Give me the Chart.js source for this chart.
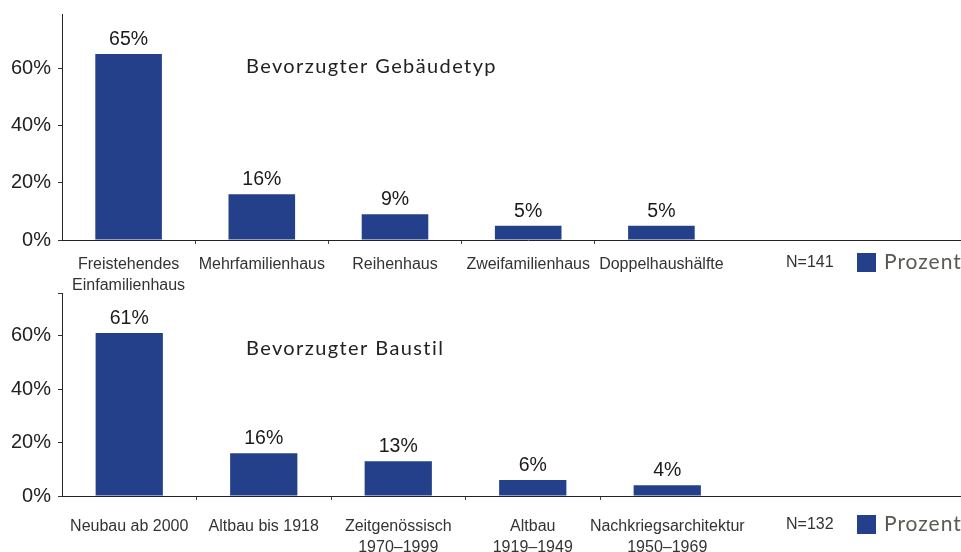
<!DOCTYPE html>
<html lang="de">
<head>
<meta charset="utf-8">
<title>Bevorzugter Gebäudetyp und Baustil</title>
<script src="https://cdn.jsdelivr.net/npm/chart.js@4/dist/chart.umd.min.js"></script>
<style>
  html, body { margin: 0; padding: 0; background: #fff; overflow: hidden; }
  .panel { position: relative; width: 1010px; }
  canvas { display: block; }
</style>
</head>
<body>
<div class="panel"><canvas id="typChart" width="1010" height="290"></canvas></div>
<div class="panel"><canvas id="stilChart" width="1010" height="262"></canvas></div>
<script>
// Gebäudetyp
const typKategorien = [
  ["Freistehendes", "Einfamilienhaus"],
  "Mehrfamilienhaus",
  "Reihenhaus",
  "Zweifamilienhaus",
  "Doppelhaushälfte",
];
const typProzent = [65, 16, 9, 5, 5];

// Baustil
const stilKategorien = [
  "Neubau ab 2000",
  "Altbau bis 1918",
  ["Zeitgenössisch", "1970–1999"],
  ["Altbau", "1919–1949"],
  ["Nachkriegsarchitektur", "1950–1969"],
];
const stilProzent = [61, 16, 13, 6, 4];

const yTickWerte = [0, 20, 40, 60];

const BAR_COLOR = "#25408a";
const SANS = "'Liberation Sans', Arial, sans-serif";
const DECO = "Lato, 'Noto Sans', sans-serif";

// value labels, title, N and legend drawn on top of the chart
const beschriftung = {
  id: "beschriftung",
  afterDatasetsDraw(chart, args, opts) {
    const ctx = chart.ctx;
    const meta = chart.getDatasetMeta(0);
    ctx.save();
    ctx.fillStyle = "#1a1a1a";
    ctx.font = "19.5px " + SANS;
    ctx.textAlign = "center";
    ctx.textBaseline = "alphabetic";
    meta.data.forEach((bar, i) => {
      const v = chart.data.datasets[0].data[i];
      ctx.fillText(v + "%", bar.x, bar.y - 9);
    });

    ctx.textAlign = "left";
    ctx.fillStyle = "#222";
    ctx.font = "20px " + DECO;
    ctx.letterSpacing = "1.4px";
    ctx.fillText(opts.titel, 246, opts.titelY);

    ctx.letterSpacing = "0px";
    ctx.fillStyle = "#333";
    ctx.font = "16px " + SANS;
    ctx.textBaseline = "middle";
    ctx.fillText(opts.n, 786, opts.legendeY);

    ctx.fillStyle = BAR_COLOR;
    ctx.fillRect(857, opts.legendeY - 10, 19, 19);
    ctx.fillStyle = "#5a5a52";
    ctx.font = "21px " + DECO;
    ctx.letterSpacing = "1px";
    ctx.fillText("Prozent", 884, opts.legendeY - 1);
    ctx.restore();
  },
};

function baueChart(id, kategorien, werte, cfg) {
  // two empty slots keep the axis running on to the right edge
  const labels = kategorien.concat(["", ""]);
  return new Chart(document.getElementById(id), {
    type: "bar",
    data: {
      labels: labels,
      datasets: [{
        label: "Prozent",
        data: werte,
        backgroundColor: BAR_COLOR,
        borderWidth: 0,
        categoryPercentage: 0.5,
        barPercentage: 1.0,
      }],
    },
    plugins: [beschriftung],
    options: {
      responsive: false,
      animation: false,
      devicePixelRatio: 1,
      layout: { padding: { top: cfg.top, right: cfg.right, left: 0, bottom: 0 } },
      plugins: {
        legend: { display: false },
        tooltip: { enabled: false },
        beschriftung: { titel: cfg.titel, titelY: cfg.titelY, n: cfg.n, legendeY: cfg.legendeY },
      },
      scales: {
        x: {
          afterFit: (s) => {
            s.height = cfg.xHoehe;
            s.paddingLeft = 0;
            s.paddingRight = 0;
          },
          border: { display: true, color: "#222", width: 1 },
          grid: {
            offset: true,
            drawOnChartArea: false,
            tickLength: 4,
            color: (c) => (c.index >= 1 && c.index <= 4 ? "#444" : "rgba(0,0,0,0)"),
          },
          ticks: {
            color: "#333",
            font: { family: SANS, size: 16, lineHeight: 1.3 },
            padding: cfg.xPadding,
            maxRotation: 0,
            autoSkip: false,
          },
        },
        y: {
          min: 0,
          max: cfg.max,
          afterFit: (s) => {
            s.width = 62;
            s.paddingTop = 0;
            s.paddingBottom = 0;
          },
          afterBuildTicks: (s) => {
            s.ticks = yTickWerte.map((v) => ({ value: v }));
            if (cfg.maxTick) s.ticks.push({ value: cfg.max });
          },
          border: { display: true, color: "#222", width: 1 },
          grid: { drawOnChartArea: false, tickLength: 4, color: "#333" },
          ticks: {
            color: "#222",
            padding: 7,
            font: { family: SANS, size: 20 },
            callback: (v) => (yTickWerte.includes(v) ? v + "%" : ""),
          },
        },
      },
    },
  });
}

baueChart("typChart", typKategorien, typProzent, {
  top: 14, right: 15.6, xHoehe: 50, xPadding: 10, max: 79, maxTick: false,
  titel: "Bevorzugter Gebäudetyp", titelY: 73, n: "N=141", legendeY: 263,
});

baueChart("stilChart", stilKategorien, stilProzent, {
  top: 3, right: 6.5, xHoehe: 56, xPadding: 16, max: 76, maxTick: true,
  titel: "Bevorzugter Baustil", titelY: 65, n: "N=132", legendeY: 235,
});
</script>
</body>
</html>
